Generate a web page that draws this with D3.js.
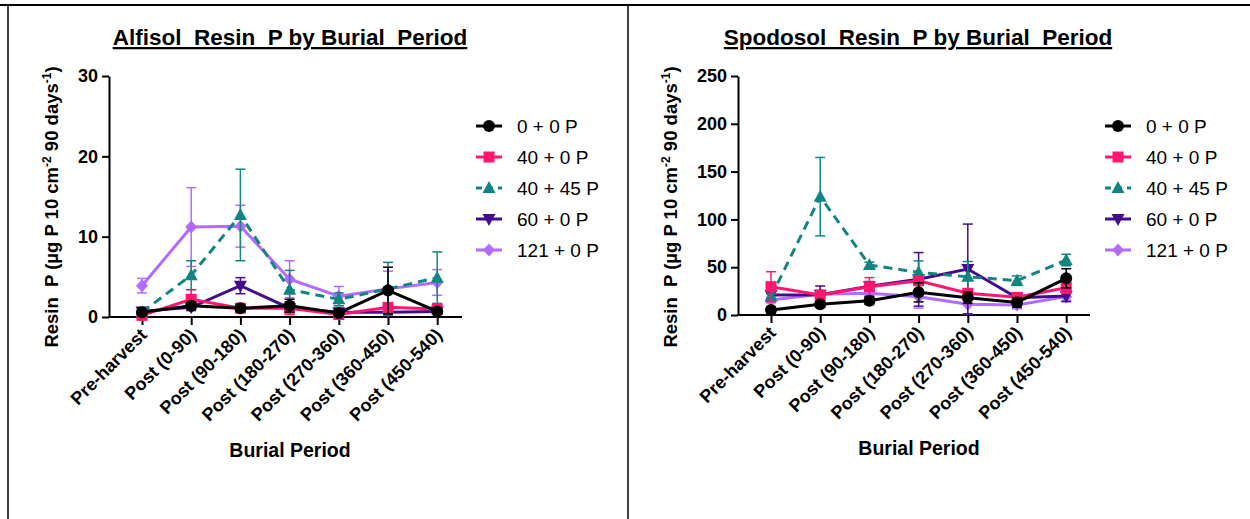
<!DOCTYPE html>
<html>
<head>
<meta charset="utf-8">
<script src="https://cdn.jsdelivr.net/npm/d3@7"></script>
<style>
  body { margin: 0; background: #fff; }
  text { font-family: "Liberation Sans", Arial, sans-serif; }
  .tick text { font-weight: bold; font-size: 18px; fill: #000; }
</style>
</head>
<body>
<div class="canvas"></div>
<script>
// categories shared by both panels
const periods = ["Pre-harvest", "Post (0-90)", "Post (90-180)", "Post (180-270)", "Post (270-360)", "Post (360-450)", "Post (450-540)"]
const seriesNames = ["0 + 0 P", "40 + 0 P", "40 + 45 P", "60 + 0 P", "121 + 0 P"]

// Alfisol means and error bars
const alf_0_0 = [0.6, 1.4, 1.1, 1.4, 0.5, 3.3, 0.7]
const alf_40_0 = [0.2, 2.2, 1.1, 1.1, 0.3, 1.2, 1.0]
const alf_40_45 = [0.6, 5.2, 12.7, 3.4, 2.2, 3.5, 4.9]
const alf_60_0 = [0.7, 1.2, 3.9, 1.1, 0.6, 0.6, 0.7]
const alf_121_0 = [3.9, 11.2, 11.3, 4.7, 2.6, 3.5, 4.3]
const alfErr_0_0 = [0.3, 0.4, 0.3, 0.8, 0.3, 2.9, 0.3]
const alfErr_40_0 = [0.3, 1.2, 0.3, 0.8, 0.2, 0.5, 0.3]
const alfErr_40_45 = [0.3, 1.8, 5.7, 2.4, 0.8, 3.3, 3.2]
const alfErr_60_0 = [0.3, 0.4, 1.0, 0.3, 0.2, 0.3, 0.2]
const alfErr_121_0 = [0.9, 4.9, 2.6, 2.3, 1.2, 2.2, 1.6]

// Spodosol means and error bars
const spo_0_0 = [5.2, 11.2, 15.0, 23.7, 18.1, 13.2, 38.4]
const spo_40_0 = [29.6, 20.9, 29.6, 35.9, 22.7, 18.5, 28.6]
const spo_40_45 = [19.0, 123.8, 52.3, 44.6, 40.0, 35.9, 57.5]
const spo_60_0 = [21.0, 21.3, 30.0, 37.3, 48.1, 18.1, 20.0]
const spo_121_0 = [15.7, 21.6, 22.7, 19.2, 11.2, 10.5, 19.2]
const spoErr_0_0 = [3, 3, 4, 10, 6, 5, 10]
const spoErr_40_0 = [15.7, 4, 9.5, 5, 4, 3, 6]
const spoErr_40_45 = [3, 41, 3, 12, 16, 5, 6]
const spoErr_60_0 = [4, 9, 5, 28, 47, 4, 6]
const spoErr_121_0 = [3, 3, 4, 12, 10, 4, 4]

const yTicksAlf = [0, 10, 20, 30]
const yTicksSpo = [0, 50, 100, 150, 200, 250]

const colors = ["#000000", "#ff1670", "#138580", "#430c8c", "#b26bff"]
const symbols = ["circle", "square", "triangle", "triangleDown", "diamond"]
const dashes = [null, null, "9,6", null, null]

const svg = d3.select(".canvas")
            .append("svg")
            .attr('width', 1250)
            .attr('height', 519)

// frame lines
svg.append('line').attr('x1', 0).attr('x2', 1250).attr('y1', 5).attr('y2', 5).attr('stroke', '#000').attr('stroke-width', 2)
svg.append('line').attr('x1', 8).attr('x2', 8).attr('y1', 4).attr('y2', 519).attr('stroke', '#000').attr('stroke-width', 1.5)
svg.append('line').attr('x1', 628).attr('x2', 628).attr('y1', 4).attr('y2', 519).attr('stroke', '#000').attr('stroke-width', 1.5)

function drawMarker(g, type, x, y, color) {
    if (type == "circle") {
        g.append('circle').attr('cx', x).attr('cy', y).attr('r', 6).attr('fill', color)
    } else if (type == "square") {
        g.append('rect').attr('x', x - 5.5).attr('y', y - 5.5).attr('width', 11).attr('height', 11).attr('fill', color)
    } else if (type == "triangle") {
        g.append('path').attr('d', `M${x},${y - 7}L${x + 6.5},${y + 5}L${x - 6.5},${y + 5}Z`).attr('fill', color)
    } else if (type == "triangleDown") {
        g.append('path').attr('d', `M${x},${y + 7}L${x + 6.5},${y - 5}L${x - 6.5},${y - 5}Z`).attr('fill', color)
    } else {
        g.append('path').attr('d', `M${x},${y - 6.5}L${x + 6},${y}L${x},${y + 6.5}L${x - 6},${y}Z`).attr('fill', color)
    }
}

function drawPanel(opt) {
    const g = svg.append('g')

    const xScale = d3.scalePoint()
        .domain(periods)
        .range([opt.x0 + 33, opt.x0 + 33 + 6 * 49.2])

    const yScale = d3.scaleLinear()
        .domain([0, opt.yMax])
        .range([opt.y0, 76])

    // title
    g.append('text')
        .attr('x', opt.titleX)
        .attr('y', 45)
        .attr('text-anchor', 'middle')
        .attr('font-size', 22.5)
        .attr('font-weight', 'bold')
        .attr('text-decoration', 'underline')
        .style('white-space', 'pre')
        .text(opt.title)

    // y axis
    const yAxis = d3.axisLeft(yScale).tickValues(opt.yTicks).tickSize(7).tickSizeOuter(0).tickPadding(4)
    const yAxisGroup = g.append('g').attr('transform', `translate(${opt.x0},0)`).call(yAxis)
    yAxisGroup.select('.domain').attr('stroke-width', 2)
    yAxisGroup.selectAll('.tick line').attr('stroke-width', 2)

    // x axis
    const xAxis = d3.axisBottom(xScale).tickSize(8).tickSizeOuter(0).tickFormat('')
    const xAxisGroup = g.append('g').attr('transform', `translate(0,${opt.y0})`).call(xAxis)
    xAxisGroup.select('.domain').remove()
    xAxisGroup.selectAll('.tick line').attr('stroke-width', 2)
    xAxisGroup.append('line')
        .attr('x1', opt.x0 - 1).attr('x2', opt.xEnd)
        .attr('stroke', '#000').attr('stroke-width', 2)

    // rotated category labels
    g.selectAll('.xlab').data(periods).enter()
        .append('text')
        .attr('class', 'xlab')
        .attr('transform', d => `translate(${xScale(d) + 6},${opt.y0 + 19}) rotate(-45)`)
        .attr('text-anchor', 'end')
        .attr('font-size', 18)
        .attr('font-weight', 'bold')
        .text(d => d)

    // axis labels
    g.append('text')
        .attr('x', opt.x0 + 181)
        .attr('y', opt.y0 + 140)
        .attr('text-anchor', 'middle')
        .attr('font-size', 19.5)
        .attr('font-weight', 'bold')
        .text("Burial Period")

    const yl = g.append('text')
        .attr('transform', `translate(${opt.x0 - opt.labelOffset},207) rotate(-90)`)
        .attr('text-anchor', 'middle')
        .attr('font-size', 18.5)
        .attr('font-weight', 'bold')
        .style('white-space', 'pre')
    yl.append('tspan').text("Resin  P (µg P 10 cm")
    yl.append('tspan').attr('baseline-shift', 'super').attr('font-size', 12).text("-2")
    yl.append('tspan').text(" 90 days")
    yl.append('tspan').attr('baseline-shift', 'super').attr('font-size', 12).text("-1")
    yl.append('tspan').text(")")

    // series, light purple drawn first so black ends on top
    const order = [4, 3, 2, 1, 0]
    order.forEach(i => {
        const vals = opt.values[i]
        const errs = opt.errors[i]
        const sg = g.append('g')
        // error bars
        vals.forEach((v, j) => {
            const x = xScale(periods[j])
            const yHi = yScale(v + errs[j])
            const yLo = yScale(Math.max(0, v - errs[j]))
            sg.append('line').attr('x1', x).attr('x2', x).attr('y1', yHi).attr('y2', yLo)
                .attr('stroke', colors[i]).attr('stroke-width', 1.5)
            ;[yHi, yLo].forEach(yy => {
                sg.append('line').attr('x1', x - 5).attr('x2', x + 5).attr('y1', yy).attr('y2', yy)
                    .attr('stroke', colors[i]).attr('stroke-width', 1.5)
            })
        })
        const lineGen = d3.line().x((d, j) => xScale(periods[j])).y(d => yScale(d))
        sg.append('path')
            .attr('d', lineGen(vals))
            .attr('fill', 'none')
            .attr('stroke', colors[i])
            .attr('stroke-width', 3)
            .attr('stroke-dasharray', dashes[i])
        vals.forEach((v, j) => drawMarker(sg, symbols[i], xScale(periods[j]), yScale(v), colors[i]))
    })

    // legend
    const legend = g.append('g')
    seriesNames.forEach((name, i) => {
        const ly = 126 + i * 31
        legend.append('line')
            .attr('x1', opt.legendX).attr('x2', opt.legendX + 26)
            .attr('y1', ly).attr('y2', ly)
            .attr('stroke', colors[i]).attr('stroke-width', 3)
            .attr('stroke-dasharray', i == 2 ? "6,5" : null)
        drawMarker(legend, symbols[i], opt.legendX + 13, ly, colors[i])
        legend.append('text')
            .attr('x', opt.legendX + 41)
            .attr('y', ly + 7)
            .attr('font-size', 19)
            .text(name)
    })
}

drawPanel({
    x0: 109, y0: 317, xEnd: 462, yMax: 30, yTicks: yTicksAlf, labelOffset: 51,
    title: "Alfisol  Resin  P by Burial  Period", titleX: 290, legendX: 476,
    values: [alf_0_0, alf_40_0, alf_40_45, alf_60_0, alf_121_0],
    errors: [alfErr_0_0, alfErr_40_0, alfErr_40_45, alfErr_60_0, alfErr_121_0]
})

drawPanel({
    x0: 738, y0: 315, xEnd: 1090, yMax: 250, yTicks: yTicksSpo, labelOffset: 61,
    title: "Spodosol  Resin  P by Burial  Period", titleX: 918, legendX: 1105,
    values: [spo_0_0, spo_40_0, spo_40_45, spo_60_0, spo_121_0],
    errors: [spoErr_0_0, spoErr_40_0, spoErr_40_45, spoErr_60_0, spoErr_121_0]
})
</script>
</body>
</html>
